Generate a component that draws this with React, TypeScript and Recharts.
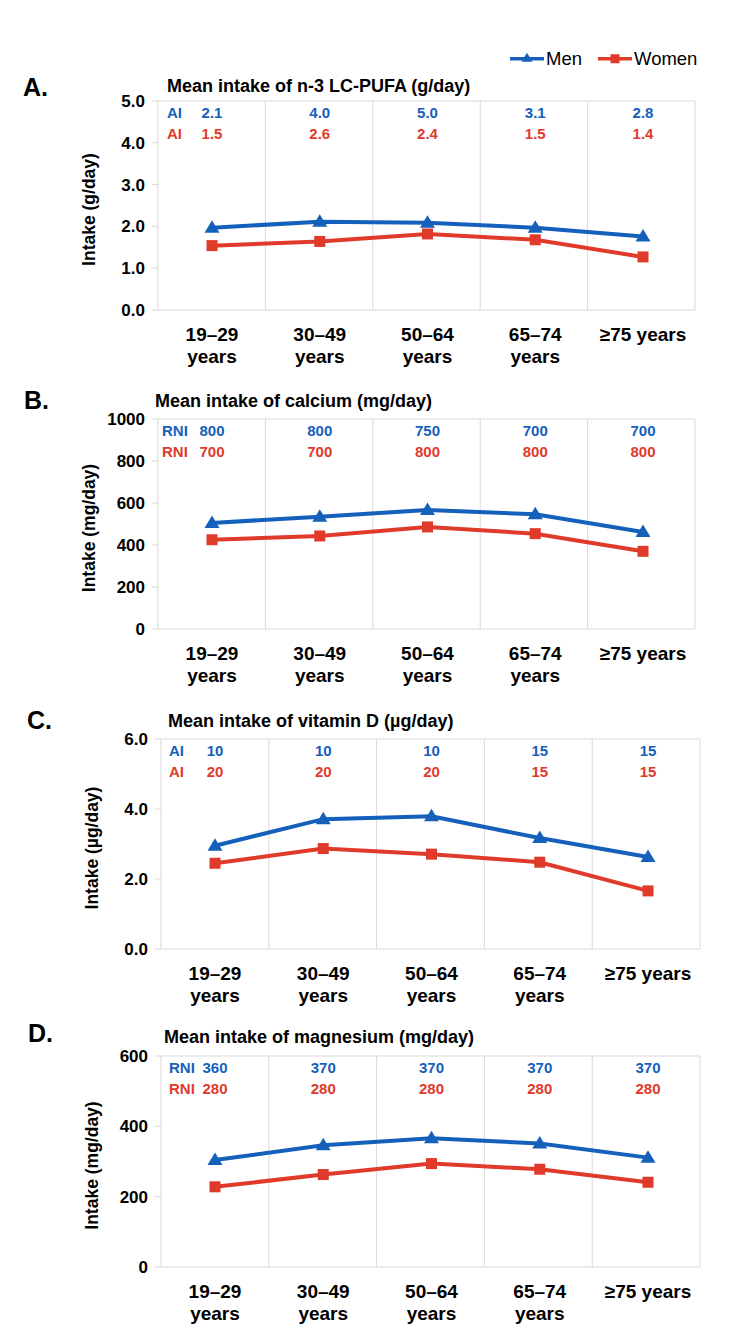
import React from 'react';
import { LineChart, Line, XAxis, YAxis, CartesianGrid, ReferenceLine, Label } from 'recharts';

const FONT = '"Liberation Sans", Arial, Helvetica, sans-serif';
const BLUE = '#1560bb';
const RED = '#e03a2b';
const GRID = '#d9d9d9';

// ---- data ----
const categories = ['19–29\nyears', '30–49\nyears', '50–64\nyears', '65–74\nyears', '≥75 years'];
const seriesNames = ['Men', 'Women'];

const pufaMen = [1.97, 2.11, 2.09, 1.97, 1.76];
const pufaWomen = [1.54, 1.64, 1.82, 1.68, 1.27];
const pufaMenRef = ['2.1', '4.0', '5.0', '3.1', '2.8'];
const pufaWomenRef = ['1.5', '2.6', '2.4', '1.5', '1.4'];
const pufaTicks = [0, 1, 2, 3, 4, 5];

const calciumMen = [505, 535, 567, 546, 462];
const calciumWomen = [425, 443, 486, 454, 370];
const calciumMenRef = ['800', '800', '750', '700', '700'];
const calciumWomenRef = ['700', '700', '800', '800', '800'];
const calciumTicks = [0, 200, 400, 600, 800, 1000];

const vitDMen = [2.95, 3.71, 3.79, 3.17, 2.63];
const vitDWomen = [2.45, 2.87, 2.71, 2.48, 1.66];
const vitDMenRef = ['10', '10', '10', '15', '15'];
const vitDWomenRef = ['20', '20', '20', '15', '15'];
const vitDTicks = [0, 2, 4, 6];

const magMen = [304, 346, 366, 351, 311];
const magWomen = [228, 263, 294, 278, 241];
const magMenRef = ['360', '370', '370', '370', '370'];
const magWomenRef = ['280', '280', '280', '280', '280'];
const magTicks = [0, 200, 400, 600];

// band boundaries (in units of category bands) where vertical grid lines are drawn
const bandBoundaries = [1, 2, 3, 4, 5];

// ---- markers ----
const Triangle = (props: any) => {
  const { cx, cy } = props;
  if (cx == null || cy == null) return null;
  return <polygon points={`${cx},${cy - 7.5} ${cx - 7.5},${cy + 5} ${cx + 7.5},${cy + 5}`} fill={BLUE} />;
};
const Square = (props: any) => {
  const { cx, cy } = props;
  if (cx == null || cy == null) return null;
  return <rect x={cx - 5.5} y={cy - 5.5} width={11} height={11} fill={RED} />;
};

type PanelProps = {
  letter: string;
  title: string;
  yLabel: string;
  refName: string;
  ticks: number[];
  decimals: number;
  men: number[];
  women: number[];
  menRef: string[];
  womenRef: string[];
  chartTop: number;
  plotTop: number;
  plotBottom: number;
  plotLeft: number;
  plotRight: number;
  letterX: number;
  letterY: number;
  titleX: number;
  titleY: number;
  refDx: number;
};

const PAD_L = 54;
const PAD_R = 52;
const YAXIS_W = 70;
const XAXIS_H = 60;
const TOP_H = 1;

function Panel(p: PanelProps) {
  const rows = categories.map((c, i) => ({ cat: c, men: p.men[i], women: p.women[i] }));
  const chartH = p.plotBottom - p.chartTop + XAXIS_H;
  const margin = {
    top: p.plotTop - p.chartTop - TOP_H,
    bottom: 0,
    left: p.plotLeft - YAXIS_W,
    right: 750 - p.plotRight,
  };
  const max = p.ticks[p.ticks.length - 1];

  const catTick = (props: any) => {
    const { x, y, payload } = props;
    const lines = String(payload.value).split('\n');
    return (
      <text x={x} textAnchor="middle" fontFamily={FONT} fontWeight="bold" fontSize={19} fill="#000">
        {lines.map((l, i) => (
          <tspan key={i} x={x} y={y + 31 + i * 22}>
            {l}
          </tspan>
        ))}
      </text>
    );
  };

  const refTick = (props: any) => {
    const { x, y, index } = props;
    return (
      <g>
        {index === 0 && (
          <>
            <text x={x - PAD_L + p.refDx} y={y + 11} dominantBaseline="central" textAnchor="start" fontFamily={FONT} fontWeight="bold" fontSize={15} fill={BLUE}>
              {p.refName}
            </text>
            <text x={x - PAD_L + p.refDx} y={y + 32} dominantBaseline="central" textAnchor="start" fontFamily={FONT} fontWeight="bold" fontSize={15} fill={RED}>
              {p.refName}
            </text>
          </>
        )}
        <text x={x} y={y + 11} dominantBaseline="central" textAnchor="middle" fontFamily={FONT} fontWeight="bold" fontSize={15} fill={BLUE}>
          {p.menRef[index]}
        </text>
        <text x={x} y={y + 32} dominantBaseline="central" textAnchor="middle" fontFamily={FONT} fontWeight="bold" fontSize={15} fill={RED}>
          {p.womenRef[index]}
        </text>
      </g>
    );
  };

  const yLabelContent = (props: any) => {
    const vb = props.viewBox || {};
    const bx = vb.x + 7;
    const cy = vb.y + vb.height / 2 + 4;
    return (
      <text
        x={bx}
        y={cy}
        transform={`rotate(-90, ${bx}, ${cy})`}
        textAnchor="middle"
        fontFamily={FONT}
        fontWeight="bold"
        fontSize={17.5}
        fill="#000"
      >
        {p.yLabel}
      </text>
    );
  };

  const verticalGen = (args: any) => {
    const off = args && args.offset ? args.offset : { left: p.plotLeft, width: p.plotRight - p.plotLeft };
    return bandBoundaries.map((b) => off.left + (off.width * b) / categories.length);
  };

  return (
    <>
      <div
        style={{
          position: 'absolute',
          left: p.letterX,
          top: p.letterY,
          transform: 'translateY(-50%)',
          fontFamily: FONT,
          fontWeight: 'bold',
          fontSize: 25,
          lineHeight: 1,
          color: '#000',
        }}
      >
        {p.letter}
      </div>
      <div
        style={{
          position: 'absolute',
          left: p.titleX,
          top: p.titleY,
          transform: 'translateY(-50%)',
          fontFamily: FONT,
          fontWeight: 'bold',
          fontSize: 18,
          lineHeight: 1,
          color: '#000',
          whiteSpace: 'nowrap',
        }}
      >
        {p.title}
      </div>
      <div style={{ position: 'absolute', left: 0, top: p.chartTop }}>
        <LineChart width={750} height={chartH} data={rows} margin={margin}>
          <CartesianGrid
            horizontal={false}
            vertical
            stroke={GRID}
            strokeWidth={1}
            verticalCoordinatesGenerator={verticalGen}
          />
          <XAxis
            xAxisId="top"
            orientation="top"
            dataKey="cat"
            height={TOP_H}
            interval={0}
            axisLine={false}
            tickLine={false}
            tickSize={0}
            tickMargin={0}
            padding={{ left: PAD_L, right: PAD_R }}
            tick={refTick}
          />
          <XAxis
            dataKey="cat"
            height={XAXIS_H}
            interval={0}
            axisLine={{ stroke: GRID }}
            tickLine={false}
            tickSize={0}
            tickMargin={0}
            padding={{ left: PAD_L, right: PAD_R }}
            tick={catTick}
          />
          <YAxis
            width={YAXIS_W}
            domain={[0, max]}
            ticks={p.ticks}
            interval={0}
            axisLine={{ stroke: GRID }}
            tickLine={{ stroke: GRID }}
            tickSize={6}
            tickMargin={7}
            tickFormatter={(v: number) => v.toFixed(p.decimals)}
            tick={{ fontFamily: FONT, fontWeight: 'bold', fontSize: 17, fill: '#000' }}
          >
            <Label content={yLabelContent} />
          </YAxis>
          <ReferenceLine y={max} stroke={GRID} strokeWidth={1} ifOverflow="visible" />
          <Line
            dataKey="men"
            name={seriesNames[0]}
            stroke={BLUE}
            strokeWidth={4}
            dot={<Triangle />}
            activeDot={false}
            isAnimationActive={false}
          />
          <Line
            dataKey="women"
            name={seriesNames[1]}
            stroke={RED}
            strokeWidth={4}
            dot={<Square />}
            activeDot={false}
            isAnimationActive={false}
          />
        </LineChart>
      </div>
    </>
  );
}

function LegendItem({ left, name, color, shape }: { left: number; name: string; color: string; shape: 'tri' | 'sq' }) {
  return (
    <div style={{ position: 'absolute', left, top: 59, transform: 'translateY(-50%)', display: 'flex', alignItems: 'center' }}>
      <svg width={35} height={16} style={{ display: 'block' }}>
        <line x1={0} y1={8} x2={34} y2={8} stroke={color} strokeWidth={3.5} />
        {shape === 'tri' ? (
          <polygon points="17,2 11.5,11 22.5,11" fill={color} />
        ) : (
          <rect x={12.5} y={3.5} width={9} height={9} fill={color} />
        )}
      </svg>
      <span style={{ fontFamily: FONT, fontSize: 18.5, lineHeight: 1, color: '#000', marginLeft: 1 }}>{name}</span>
    </div>
  );
}

export default function App() {
  return (
    <div style={{ position: 'absolute', left: 0, top: 0, width: 750, height: 1338, background: '#fff', overflow: 'hidden' }}>
      <LegendItem left={510} name={seriesNames[0]} color={BLUE} shape="tri" />
      <LegendItem left={598} name={seriesNames[1]} color={RED} shape="sq" />

      <Panel
        letter="A."
        title="Mean intake of n-3 LC-PUFA (g/day)"
        yLabel="Intake (g/day)"
        refName="AI"
        ticks={pufaTicks}
        decimals={1}
        men={pufaMen}
        women={pufaWomen}
        menRef={pufaMenRef}
        womenRef={pufaWomenRef}
        chartTop={40}
        plotTop={101}
        plotBottom={310}
        plotLeft={158}
        plotRight={695}
        letterX={23}
        letterY={87}
        titleX={167}
        titleY={86}
        refDx={9}
      />
      <Panel
        letter="B."
        title="Mean intake of calcium (mg/day)"
        yLabel="Intake (mg/day)"
        refName="RNI"
        ticks={calciumTicks}
        decimals={0}
        men={calciumMen}
        women={calciumWomen}
        menRef={calciumMenRef}
        womenRef={calciumWomenRef}
        chartTop={360}
        plotTop={419}
        plotBottom={629}
        plotLeft={158}
        plotRight={695}
        letterX={24}
        letterY={400}
        titleX={155}
        titleY={401}
        refDx={4}
      />
      <Panel
        letter="C."
        title="Mean intake of vitamin D (µg/day)"
        yLabel="Intake (µg/day)"
        refName="AI"
        ticks={vitDTicks}
        decimals={1}
        men={vitDMen}
        women={vitDWomen}
        menRef={vitDMenRef}
        womenRef={vitDWomenRef}
        chartTop={680}
        plotTop={739}
        plotBottom={949}
        plotLeft={161}
        plotRight={700}
        letterX={27}
        letterY={720}
        titleX={168}
        titleY={721}
        refDx={8}
      />
      <Panel
        letter="D."
        title="Mean intake of magnesium (mg/day)"
        yLabel="Intake (mg/day)"
        refName="RNI"
        ticks={magTicks}
        decimals={0}
        men={magMen}
        women={magWomen}
        menRef={magMenRef}
        womenRef={magWomenRef}
        chartTop={1000}
        plotTop={1056}
        plotBottom={1267}
        plotLeft={161}
        plotRight={700}
        letterX={28}
        letterY={1033}
        titleX={164}
        titleY={1037}
        refDx={8}
      />
    </div>
  );
}
